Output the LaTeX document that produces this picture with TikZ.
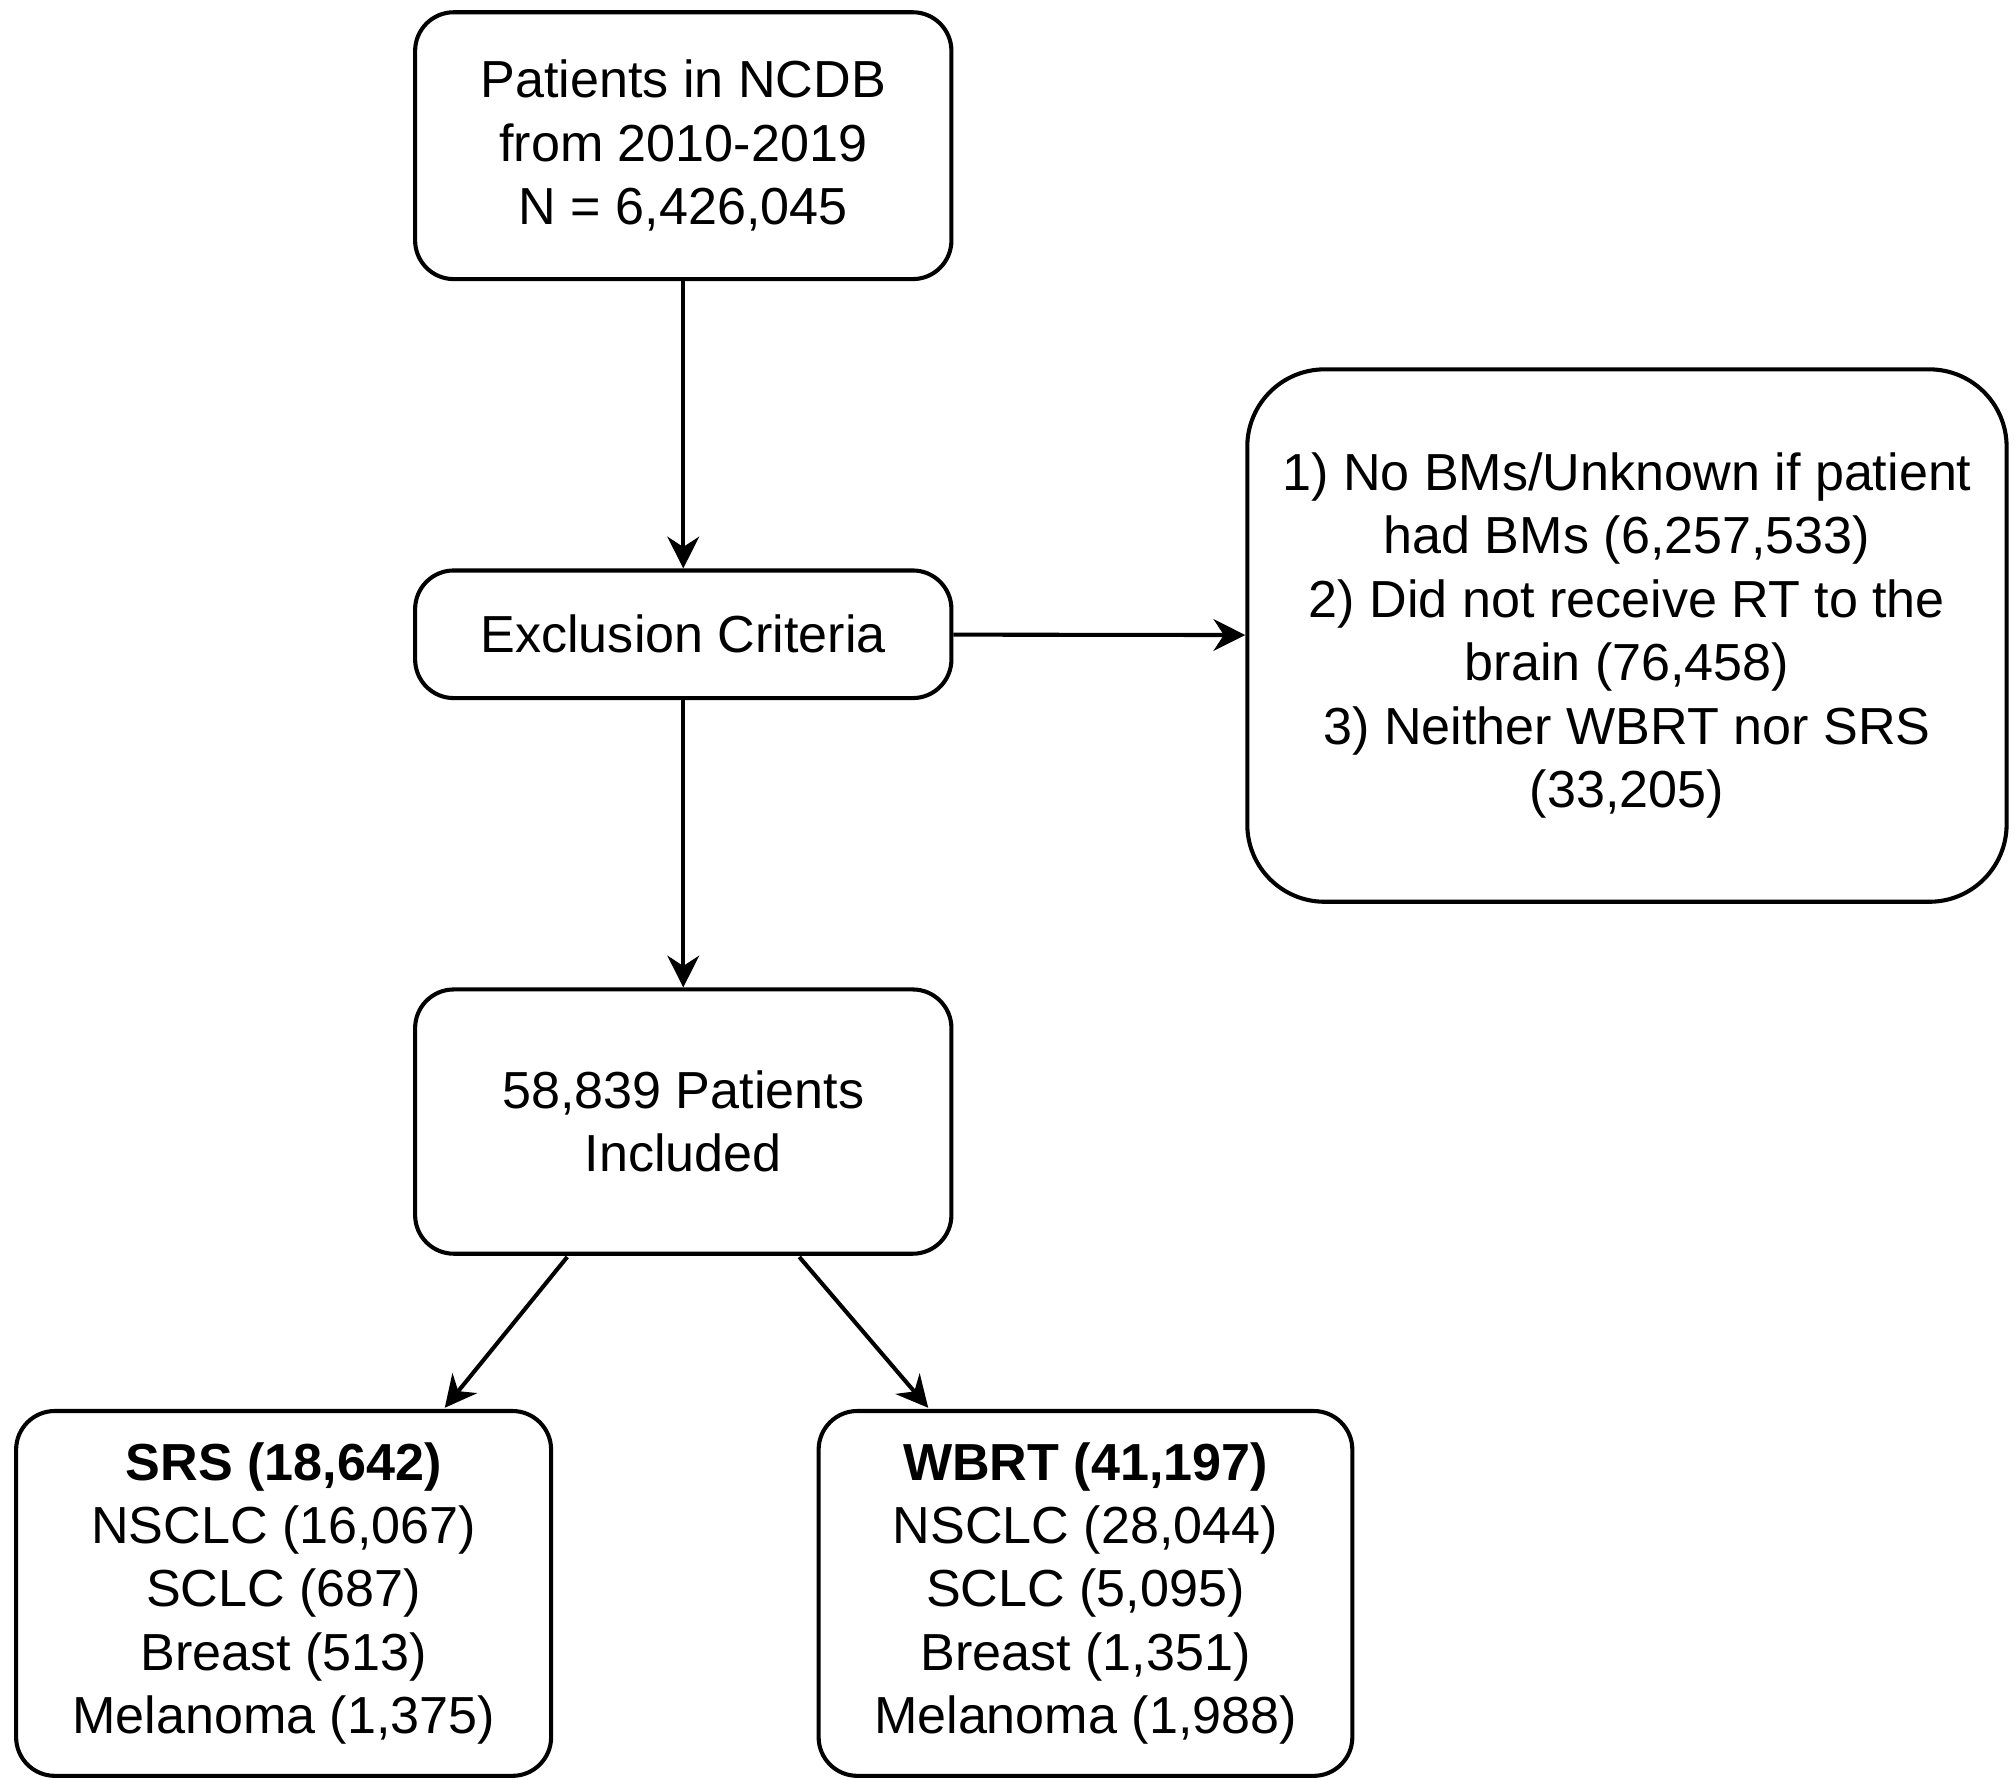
\documentclass[tikz,border=0pt]{standalone}
\usepackage{fontspec}
\setmainfont{Liberation Sans}
\usetikzlibrary{arrows.meta}

\tikzset{
  box/.style={draw,line width=0.9pt,rounded corners=0.3cm,align=center,
    font=\fontsize{11.5}{14}\selectfont,inner sep=2pt},
  arr/.style={-{Stealth[length=7pt,width=7pt]},line width=0.9pt}
}

\begin{document}
\begin{tikzpicture}
        \useasboundingbox (0,0) rectangle (15.63,-13.8);
        \node[box,minimum width=4.16cm,minimum height=2.07cm] (ncdb) at (5.30,-1.13) {Patients in NCDB\\from 2010-2019\\N = 6,426,045};
        \node[box,minimum width=4.16cm,minimum height=0.99cm] (excl) at (5.30,-4.92) {Exclusion Criteria};
        \node[box,rounded corners=0.6cm,minimum width=5.89cm,minimum height=4.13cm] (crit) at (12.62,-4.93) {1) No BMs/Unknown if patient\\had BMs (6,257,533)\\2) Did not receive RT to the\\brain (76,458)\\3) Neither WBRT nor SRS\\(33,205)};
        \node[box,minimum width=4.16cm,minimum height=2.05cm] (incl) at (5.30,-8.70) {58,839 Patients\\Included};
        \node[box,minimum width=4.15cm,minimum height=2.83cm] (srs) at (2.20,-12.36) {\textbf{SRS (18,642)}\\NSCLC (16,067)\\SCLC (687)\\Breast (513)\\Melanoma (1,375)};
        \node[box,minimum width=4.14cm,minimum height=2.83cm] (wbrt) at (8.42,-12.36) {\textbf{WBRT (41,197)}\\NSCLC (28,044)\\SCLC (5,095)\\Breast (1,351)\\Melanoma (1,988)};
        \coordinate (ls) at (4.40,-9.75);
        \coordinate (rs) at (6.20,-9.75);
        \coordinate (le) at (3.45,-10.92);
        \coordinate (re) at (7.20,-10.92);
        \draw[arr] (ncdb) -- (excl);
        \draw[arr] (excl) -- (crit);
        \draw[arr] (excl) -- (incl);
        \draw[arr] (ls) -- (le);
        \draw[arr] (rs) -- (re);
\end{tikzpicture}
\end{document}
